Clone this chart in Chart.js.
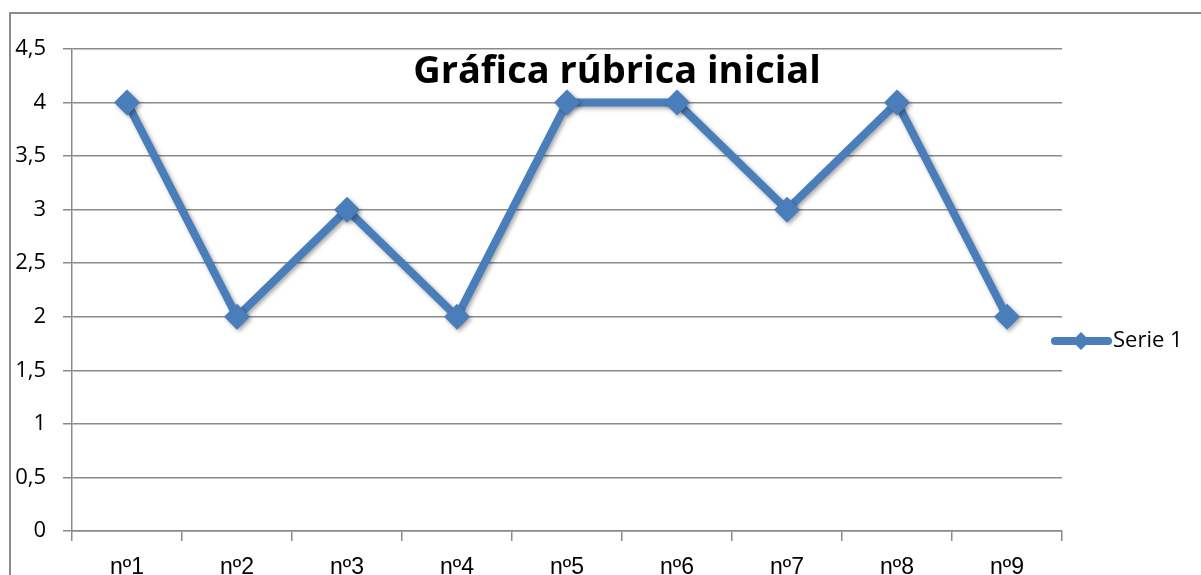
<!DOCTYPE html>
<html>
<head>
<meta charset="utf-8">
<script src="https://cdn.jsdelivr.net/npm/chart.js@4"></script>
<style>
  body { margin: 0; background: #fff; }
  #wrap { position: relative; width: 1201px; height: 575px; }
</style>
</head>
<body>
<div id="wrap"><canvas id="chart" width="1201" height="575"></canvas></div>
<script>
// Données du graphique
const categories = ['nº1', 'nº2', 'nº3', 'nº4', 'nº5', 'nº6', 'nº7', 'nº8', 'nº9'];
const serie1 = [4, 2, 3, 2, 4, 4, 3, 4, 2];
const seriesLabel = 'Serie 1';
const chartTitle = 'Gráfica rúbrica inicial';

const blue = '#4a7ebb';
const gridGrey = '#8a8a8a';
const fontFamily = '"Open Sans", Lato, sans-serif';
const labelFont = '"Liberation Sans", Arial, sans-serif'; // le º souligné

// Cadre, titre et légende dessinés à la main (comme dans Excel)
const excelDecor = {
    id: 'excelDecor',
    beforeDraw(chart) {
        const ctx = chart.ctx;
        ctx.save();
        ctx.strokeStyle = '#8c8c8c';
        ctx.lineWidth = 2;
        ctx.beginPath();
        ctx.moveTo(10, 575);
        ctx.lineTo(10, 13);
        ctx.lineTo(1201, 13);
        ctx.stroke();
        ctx.restore();
    },
    beforeDatasetsDraw(chart) {
        chart.ctx.save();
        chart.ctx.shadowColor = 'rgba(0,0,0,0.35)';
        chart.ctx.shadowBlur = 4;
        chart.ctx.shadowOffsetX = 2;
        chart.ctx.shadowOffsetY = 2;
    },
    afterDatasetsDraw(chart) {
        chart.ctx.restore();
    },
    afterDraw(chart) {
        const ctx = chart.ctx;
        ctx.save();
        // Titre
        ctx.fillStyle = '#000';
        ctx.font = 'bold 38px ' + fontFamily;
        ctx.textAlign = 'center';
        ctx.textBaseline = 'alphabetic';
        ctx.fillText(chartTitle, 617, 83);

        // Légende
        const ly = 341;
        ctx.strokeStyle = blue;
        ctx.lineWidth = 8;
        ctx.lineCap = 'round';
        ctx.beginPath();
        ctx.moveTo(1055, ly);
        ctx.lineTo(1108, ly);
        ctx.stroke();
        ctx.fillStyle = blue;
        ctx.beginPath();
        ctx.moveTo(1081, ly - 9);
        ctx.lineTo(1090, ly);
        ctx.lineTo(1081, ly + 9);
        ctx.lineTo(1072, ly);
        ctx.closePath();
        ctx.fill();
        ctx.fillStyle = '#000';
        ctx.font = '22px ' + fontFamily;
        ctx.textAlign = 'left';
        ctx.textBaseline = 'middle';
        ctx.fillText(seriesLabel, 1113, ly);
        ctx.restore();
    }
};

new Chart(document.getElementById('chart'), {
    type: 'line',
    data: {
        labels: categories,
        datasets: [{
            label: seriesLabel,
            data: serie1,
            borderColor: blue,
            backgroundColor: blue,
            borderWidth: 8,
            pointStyle: 'rectRot',
            pointRadius: 13,
            pointHoverRadius: 13,
            pointBorderWidth: 0,
            tension: 0
        }]
    },
    options: {
        responsive: false,
        animation: false,
        layout: { padding: { top: 49, right: 139, left: 0, bottom: 0 } },
        plugins: {
            legend: { display: false },
            title: { display: false },
            tooltip: { enabled: false }
        },
        scales: {
            x: {
                offset: true,
                grid: {
                    offset: true,
                    drawOnChartArea: false,
                    drawTicks: true,
                    tickLength: 10,
                    color: gridGrey,
                    lineWidth: 1.5
                },
                border: { color: gridGrey, width: 1.5 },
                ticks: {
                    color: '#000',
                    font: { family: labelFont, size: 23 },
                    padding: 13,
                    maxRotation: 0
                },
                afterFit(scale) { scale.height = 44; }
            },
            y: {
                min: 0,
                max: 4.5,
                grid: {
                    color: gridGrey,
                    lineWidth: 1.5,
                    tickLength: 9
                },
                border: { color: gridGrey, width: 1.5 },
                ticks: {
                    stepSize: 0.5,
                    color: '#000',
                    font: { family: fontFamily, size: 22 },
                    padding: 17,
                    callback: v => String(v).replace('.', ',')
                },
                afterFit(scale) { scale.width = 72; }
            }
        }
    },
    plugins: [excelDecor]
});
</script>
</body>
</html>
